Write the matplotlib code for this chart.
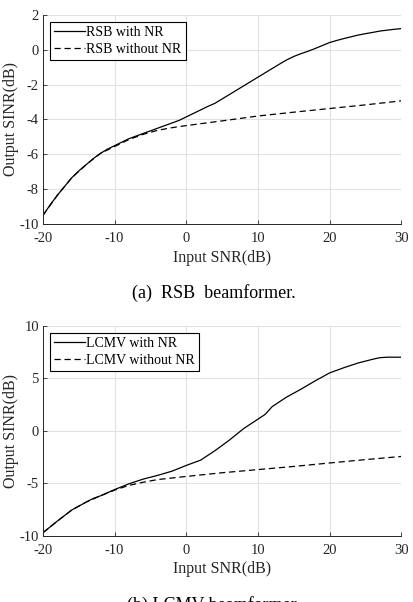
import matplotlib
matplotlib.use("Agg")
import matplotlib.pyplot as plt

# ---------------- data ----------------
snr = [-20, -19, -18, -17, -16, -15, -14, -13, -12, -11, -10, -9, -8, -7, -6, -5, -4, -3, -2, -1,
       0, 1, 2, 3, 4, 5, 6, 7, 8, 9, 10, 11, 12, 13, 14, 15, 16, 17, 18, 19, 20,
       21, 22, 23, 24, 25, 26, 27, 28, 29, 30]

rsb_nr = [-9.5, -8.9, -8.35, -7.85, -7.35, -6.95, -6.6, -6.25, -5.95, -5.7, -5.5, -5.3, -5.1, -4.95,
          -4.8, -4.65, -4.5, -4.35, -4.2, -4.05, -3.85, -3.65, -3.45, -3.25, -3.07, -2.82, -2.57,
          -2.32, -2.07, -1.82, -1.57, -1.32, -1.07, -0.82, -0.58, -0.38, -0.22, -0.08, 0.08, 0.25,
          0.42, 0.54, 0.65, 0.75, 0.85, 0.93, 1.0, 1.08, 1.13, 1.18, 1.22]

rsb_x = [-20, -18, -16, -14, -12, -10, -8, -6, -4, -2, 0, 5, 10, 15, 20, 25, 30]
rsb_no = [-9.5, -8.35, -7.35, -6.6, -5.95, -5.55, -5.15, -4.85, -4.62, -4.47, -4.35,
          -4.08, -3.8, -3.58, -3.37, -3.16, -2.93]

lcmv_x = [-20, -18, -16, -14, -13, -12, -10, -8, -6, -4, -2, 0, 2, 4, 6, 8, 10, 11, 12, 14,
          16, 18, 20, 22, 24, 26, 27, 28, 30]
lcmv_nr = [-9.7, -8.6, -7.55, -6.8, -6.45, -6.2, -5.6, -5.05, -4.6, -4.25, -3.85, -3.3, -2.8,
           -1.9, -0.9, 0.2, 1.1, 1.55, 2.3, 3.2, 3.95, 4.75, 5.5, 6.0, 6.45, 6.8, 6.95, 7.0, 7.0]

lcmv_no_x = [-20, -18, -16, -14, -12, -10, -8, -6, -4, -2, 0, 5, 10, 15, 20, 25, 30]
lcmv_no = [-9.7, -8.6, -7.55, -6.8, -6.2, -5.65, -5.2, -4.9, -4.65, -4.5, -4.35,
           -4.0, -3.7, -3.4, -3.07, -2.75, -2.45]

xticks = [-20, -10, 0, 10, 20, 30]
yticks_a = [-10, -8, -6, -4, -2, 0, 2]
yticks_b = [-10, -5, 0, 5, 10]

# ---------------- figure ----------------
plt.rcParams['font.family'] = ['Liberation Serif', 'DejaVu Serif']
plt.rcParams['axes.unicode_minus'] = False

fig = plt.figure(figsize=(4.14, 6.02), dpi=100)
ax1 = fig.add_axes([0.104, 0.628, 0.865, 0.347])
ax2 = fig.add_axes([0.104, 0.110, 0.865, 0.349])


def style(ax, yticks, ylim, xlab_y):
    ax.set_xlim(-20, 30)
    ax.set_ylim(*ylim)
    ax.set_xticks(xticks)
    ax.set_yticks(yticks)
    ax.grid(True, color='#e2e2e2', linewidth=0.8)
    ax.set_axisbelow(True)
    for s in ['top', 'right']:
        ax.spines[s].set_visible(False)
    for s in ['left', 'bottom']:
        ax.spines[s].set_color('#262626')
        ax.spines[s].set_linewidth(0.7)
    ax.tick_params(direction='in', length=3, width=0.6, labelsize=10.5, colors='#262626')
    ax.tick_params(axis='x', pad=6)
    ax.tick_params(axis='y', pad=3)
    ax.set_xlabel('Input SNR(dB)', fontsize=11.5, color='#262626')
    ax.set_ylabel('Output SINR(dB)', fontsize=11.5, color='#262626')
    ax.xaxis.set_label_coords(0.5, xlab_y)
    ax.yaxis.set_label_coords(-0.066, 0.5)


ax1.plot(snr, rsb_nr, color='black', lw=0.9, label='RSB with NR')
ax1.plot(rsb_x, rsb_no, color='black', lw=0.9, ls=(0, (5, 3)), label='RSB without NR')
style(ax1, yticks_a, (-10, 2), -0.127)

ax2.plot(lcmv_x, lcmv_nr, color='black', lw=0.9, label='LCMV with NR')
ax2.plot(lcmv_no_x, lcmv_no, color='black', lw=0.9, ls=(0, (5, 3)), label='LCMV without NR')
style(ax2, yticks_b, (-10, 10), -0.122)

for ax in (ax1, ax2):
    leg = ax.legend(loc='upper left', fontsize=10, frameon=True, fancybox=False,
                    edgecolor='black', framealpha=1, borderpad=0.3, handlelength=2.2,
                    handletextpad=0.1, labelspacing=0.3, borderaxespad=0.5)
    leg.get_frame().set_linewidth(0.8)

fig.text(0.517, 1 - 293 / 602, '(a)  RSB  beamformer.', ha='center', va='center', fontsize=13)
fig.text(0.515, 1 - 596 / 602, '(b) LCMV beamformer.', ha='center', va='top', fontsize=13)

fig.savefig('out.png', dpi=100)
